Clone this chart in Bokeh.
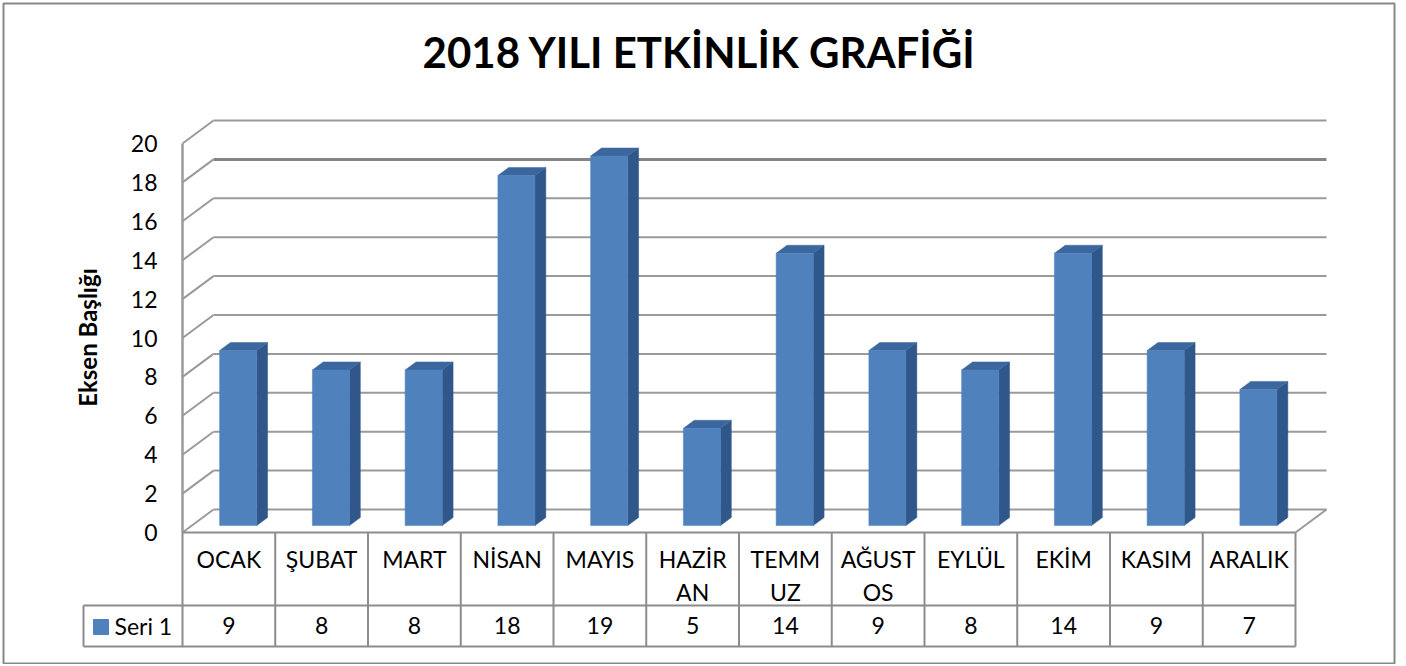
from bokeh.plotting import figure
from bokeh.models import Range1d, ColumnDataSource
from bokeh.core.properties import value
from bokeh.embed import file_html
from bokeh.resources import INLINE

# ---------------- data ----------------
categories = ["OCAK", "ŞUBAT", "MART", "NİSAN", "MAYIS", "HAZİRAN",
              "TEMMUZ", "AĞUSTOS", "EYLÜL", "EKİM", "KASIM", "ARALIK"]
category_labels = ["OCAK", "ŞUBAT", "MART", "NİSAN", "MAYIS", "HAZİR\nAN",
                   "TEMM\nUZ", "AĞUST\nOS", "EYLÜL", "EKİM", "KASIM", "ARALIK"]
seri1 = [9, 8, 8, 18, 19, 5, 14, 9, 8, 14, 9, 7]
series_name = "Seri 1"
y_ticks = [0, 2, 4, 6, 8, 10, 12, 14, 16, 18, 20]
title_text = "2018 YILI ETKİNLİK GRAFİĞİ"
axis_title = "Eksen Başlığı"

# ---------------- geometry (pixels of the page) ----------------
W, H = 1400, 664
CAT_W = 92.75              # px per category
UNIT = 19.45               # px per value unit
FX0, FY0 = 182, 532        # px of front-left floor corner

def sx(px):   # page x px -> data x
    return (px - FX0) / CAT_W

def sy(py):   # page y px -> data y
    return (FY0 - py) / UNIT

DX = 31 / CAT_W            # depth offset (x)
DY = 23 / UNIT             # depth offset (y)
BW = 0.40                  # bar width (category units)
FD0, FD1 = 0.30, 0.65      # bar depth range (fraction of depth)
N = len(categories)
VMAX = y_ticks[-1]

FONT = value("Lato")
GRID = "#9a9a9a"
TABLE = "#8c8c8c"
FRONT = "#4F81BD"
SIDE = "#30578A"
TOP = "#3C679E"

p = figure(width=W, height=H, output_backend="svg", toolbar_location=None,
           x_range=Range1d(sx(0), sx(W)),
           y_range=Range1d(sy(H), sy(0)),
           x_axis_type=None, y_axis_type=None, min_border=0,
           background_fill_color="white", border_fill_color="white")
p.xgrid.visible = False
p.ygrid.visible = False
p.outline_line_color = None

# chart border
p.quad(left=[sx(3)], right=[sx(1394)], bottom=[sy(663)], top=[sy(3)],
       fill_color=None, line_color="#878787", line_width=2)

# ---------------- walls / gridlines ----------------
back_x = [[DX, N + DX] for _ in y_ticks]
back_y = [[v + DY, v + DY] for v in y_ticks]
back_w = [3 if v == 18 else 2 for v in y_ticks]
back_c = ["#858585" if v == 18 else GRID for v in y_ticks]
p.multi_line(back_x, back_y, line_color=back_c, line_width=back_w)
side_x = [[0, DX] for _ in y_ticks]
side_y = [[v, v + DY] for v in y_ticks]
p.multi_line(side_x, side_y, line_color=GRID, line_width=2)
# front vertical axis line
p.line([0, 0], [0, VMAX], line_color=GRID, line_width=2.5)
# floor right edge
p.line([N, N + DX], [0, DY], line_color=GRID, line_width=2)

# ---------------- bars ----------------
idx = list(range(N))
L = [i + 0.5 - BW / 2 + FD0 * DX for i in idx]
R = [i + 0.5 + BW / 2 + FD0 * DX for i in idx]
B = [FD0 * DY for _ in idx]
T = [v + FD0 * DY for v in seri1]
bd = FD1 - FD0
side_xs = [[r, r + bd * DX, r + bd * DX, r] for r in R]
side_ys = [[b, b + bd * DY, t + bd * DY, t] for b, t in zip(B, T)]
top_xs = [[l, r, r + bd * DX, l + bd * DX] for l, r in zip(L, R)]
top_ys = [[t, t, t + bd * DY, t + bd * DY] for t in T]
p.patches(side_xs, side_ys, fill_color=SIDE, line_color=SIDE, line_width=0.5)
p.patches(top_xs, top_ys, fill_color=TOP, line_color=TOP, line_width=0.5)
p.quad(left=L, right=R, bottom=B, top=T, fill_color=FRONT, line_color=FRONT, line_width=0.5)

# ---------------- y tick labels ----------------
p.text(x=[sx(157)] * len(y_ticks), y=y_ticks, text=[str(t) for t in y_ticks],
       text_align="right", text_baseline="middle", text_font=FONT,
       text_font_size="23px", text_color="black")

# axis title
p.text(x=[sx(87)], y=[sy(337)], text=[axis_title], angle=1.5708,
       text_align="center", text_baseline="middle", text_font=FONT,
       text_font_size="24px", text_font_style="bold", text_color="black")

# chart title
p.text(x=[sx(699)], y=[sy(51)], text=[title_text], text_align="center",
       text_baseline="middle", text_font=FONT, text_font_size="42px",
       text_font_style="bold", text_color="black")

# ---------------- data table ----------------
row1_bot = sy(605)
row2_bot = sy(646)
left_cell = sx(83)
vx = [[i, i] for i in range(N + 1)]
vy = [[0, row2_bot] for _ in range(N + 1)]
vx.append([left_cell, left_cell]); vy.append([row1_bot, row2_bot])
hx = [[0, N], [left_cell, N], [left_cell, N]]
hy = [[0, 0], [row1_bot, row1_bot], [row2_bot, row2_bot]]
p.multi_line(vx + hx, vy + hy, line_color=TABLE, line_width=2)

line1 = [lab.split("\n")[0] for lab in category_labels]
line2 = [lab.split("\n")[1] if "\n" in lab else "" for lab in category_labels]
cx = [i + 0.5 for i in idx]
p.text(x=cx, y=[sy(558)] * N, text=line1, text_align="center", text_baseline="middle",
       text_font=FONT, text_font_size="23px", text_color="black")
p.text(x=cx, y=[sy(591)] * N, text=line2, text_align="center", text_baseline="middle",
       text_font=FONT, text_font_size="23px", text_color="black")
p.text(x=cx, y=[sy(625)] * N, text=[str(v) for v in seri1],
       text_align="center", text_baseline="middle", text_font=FONT,
       text_font_size="23px", text_color="black")

# legend key
p.scatter(x=[sx(100.5)], y=[sy(626.5)], marker="square", size=15,
          fill_color=FRONT, line_color=FRONT)
p.text(x=[sx(114)], y=[sy(625)], text=[series_name], text_align="left",
       text_baseline="middle", text_font=FONT, text_font_size="23px", text_color="black")

open("out.html", "w").write(file_html(p, INLINE))
